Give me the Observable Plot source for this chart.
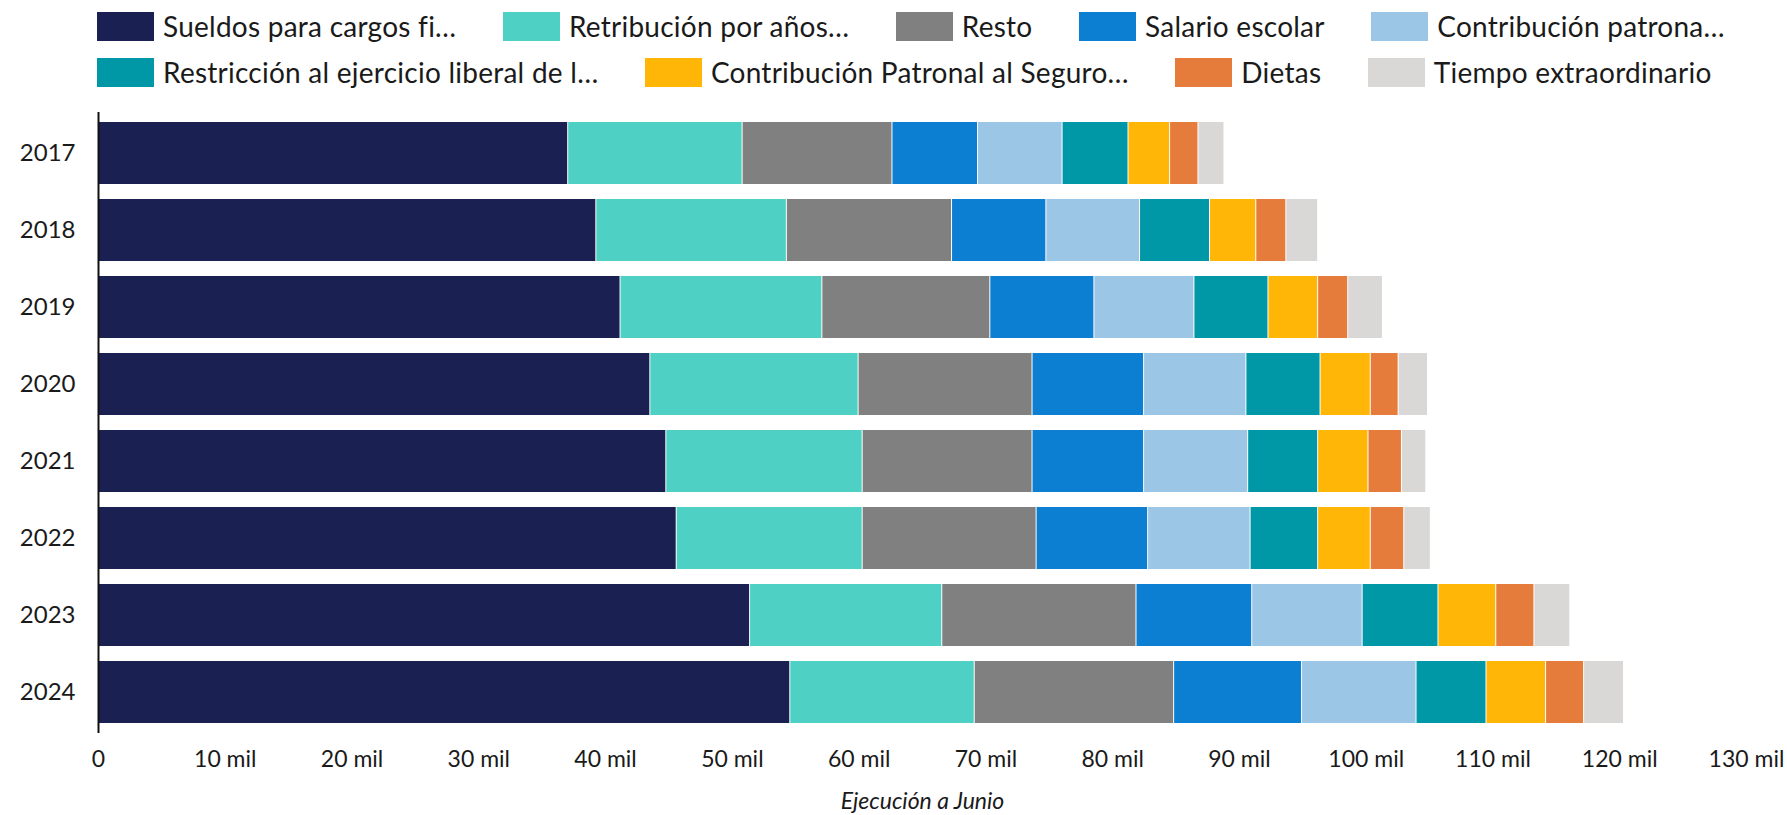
<!DOCTYPE html>
<html>
<head>
<meta charset="utf-8">
<script src="https://cdn.jsdelivr.net/npm/d3@7"></script>
<script src="https://cdn.jsdelivr.net/npm/@observablehq/plot@0.6"></script>
<style>
  html, body { margin: 0; padding: 0; background: #fff; }
  body { font-family: Lato, "Open Sans", sans-serif; width: 1787px; }
  #legend { height: 100px; box-sizing: border-box; padding: 12px 0 0 97px; display: flex; flex-wrap: wrap; align-content: flex-start; width: 1787px; row-gap: 0; }
  .item { display: flex; align-items: center; margin-right: 46.5px; height: 29px; flex: none; }
  .sw { width: 57px; height: 29px; margin-right: 9px; flex: none; }
  .lbl { font-size: 28px; letter-spacing: 0.25px; color: #1a1a1a; line-height: 29px; white-space: nowrap; }
  .brk { flex-basis: 100%; height: 17px; }
</style>
</head>
<body>
<div id="legend"></div>
<div id="chart"></div>
<script>
// Categories (years) and series
const years = ["2017", "2018", "2019", "2020", "2021", "2022", "2023", "2024"];
const seriesNames = [
  "Sueldos para cargos fi…",
  "Retribución por años…",
  "Resto",
  "Salario escolar",
  "Contribución patrona…",
  "Restricción al ejercicio liberal de l…",
  "Contribución Patronal al Seguro…",
  "Dietas",
  "Tiempo extraordinario"
];
const seriesColors = ["#1b2052", "#4ed1c4", "#808080", "#0c7fd3", "#9bc6e5", "#0098a7", "#ffb607", "#e67c3c", "#d9d8d6"];

// Series values (axis shows thousands as "mil")
const sueldos         = [37050, 39270, 41180, 43530, 44790, 45610, 51400, 54570];
const retribucion     = [13760, 15030, 15920, 16430, 15490, 14670, 15160, 14550];
const resto           = [11820, 13030, 13250, 13720, 13400, 13720, 15320, 15730];
const salarioEscolar  = [ 6750,  7440,  8210,  8800,  8800,  8800,  9130, 10090];
const contribPatronal = [ 6670,  7390,  7890,  8070,  8210,  8080,  8710,  9030];
const restriccion     = [ 5200,  5520,  5840,  5850,  5520,  5330,  5980,  5520];
const contribSeguro   = [ 3280,  3650,  3920,  3960,  3970,  4150,  4560,  4700];
const dietas          = [ 2240,  2370,  2370,  2200,  2640,  2640,  3010,  3000];
const tiempoExtra     = [ 2050,  2510,  2740,  2320,  1920,  2100,  2830,  3150];

// X tick values
const xTicks = [0, 10000, 20000, 30000, 40000, 50000, 60000, 70000, 80000, 90000, 100000, 110000, 120000, 130000];

const seriesValues = [sueldos, retribucion, resto, salarioEscolar, contribPatronal, restriccion, contribSeguro, dietas, tiempoExtra];
const rows = [];
seriesNames.forEach((s, i) => {
  years.forEach((y, j) => rows.push({year: y, serie: s, value: seriesValues[i][j]}));
});

// Legend (5 items in first row, 4 in second)
const legend = document.getElementById("legend");
seriesNames.forEach((s, i) => {
  const it = document.createElement("div");
  it.className = "item";
  const sw = document.createElement("div");
  sw.className = "sw";
  sw.style.background = seriesColors[i];
  const lb = document.createElement("span");
  lb.className = "lbl";
  lb.textContent = s;
  it.appendChild(sw);
  it.appendChild(lb);
  legend.appendChild(it);
  if (i === 4) {
    const br = document.createElement("div");
    br.className = "brk";
    legend.appendChild(br);
  }
});

const chart = Plot.plot({
  width: 1787,
  height: 715,
  marginLeft: 98,
  marginRight: 41,
  marginTop: 12,
  marginBottom: 82,
  style: {fontFamily: "Lato, sans-serif", fontSize: "23px", color: "#1a1a1a", background: "white"},
  x: {domain: [0, 130000]},
  y: {domain: years, paddingInner: 0.19, paddingOuter: 0.1},
  color: {domain: seriesNames, range: seriesColors},
  marks: [
    Plot.barX(rows, Plot.stackX({x: "value", y: "year", fill: "serie", order: seriesNames, insetLeft: 0.5, insetRight: 0.5})),
    Plot.ruleX([0], {stroke: "#111", strokeWidth: 2}),
    Plot.axisX({ticks: xTicks, tickSize: 0, tickPadding: 17, label: null, fontSize: 23,
      tickFormat: d => d === 0 ? "0" : `${d / 1000} mil`}),
    Plot.axisY({tickSize: 0, tickPadding: 23, label: null, fontSize: 24}),
    Plot.text(["Ejecución a Junio"], {frameAnchor: "bottom", lineAnchor: "middle", dy: 68, fontStyle: "italic", fontSize: 23, fill: "#1a1a1a"})
  ]
});
document.getElementById("chart").appendChild(chart);
</script>
</body>
</html>
